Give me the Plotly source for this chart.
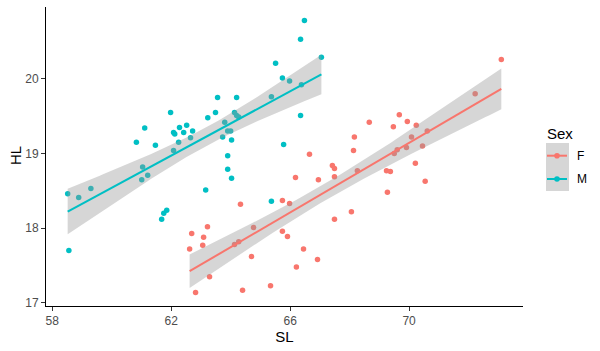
import numpy as np
import plotly.graph_objects as go

# ---------------- data ----------------
sex_levels = ["F", "M"]

sl_F = [68.66, 68.16, 68.13, 66.65, 67.42, 67.49, 68.26, 66.18, 66.95, 67.49,
        62.69, 62.62, 62.82, 64.33, 65.74, 65.98, 68.06, 67.49, 63.22, 63.09,
        63.06, 64.77, 65.74, 65.91, 64.13, 64.27, 66.45, 64.70, 66.92, 66.21,
        63.29, 64.40, 65.34, 73.10, 72.22, 69.67, 69.94, 69.47, 70.24, 70.61,
        70.08, 69.91, 70.45, 69.60, 69.50, 69.24, 69.37, 70.21, 70.54, 69.27]
hl_F = [19.42, 19.22, 19.04, 18.99, 18.84, 18.80, 18.77, 18.68, 18.65, 18.69,
        17.93, 17.72, 17.14, 18.32, 18.37, 18.33, 18.22, 18.12, 18.02, 17.88,
        17.77, 18.01, 17.96, 17.89, 17.78, 17.82, 17.72, 17.62, 17.58, 17.48,
        17.35, 17.17, 17.23, 20.26, 19.80, 19.52, 19.43, 19.36, 19.38, 19.30,
        19.22, 19.08, 19.10, 19.05, 19.00, 18.77, 18.76, 18.87, 18.63, 18.48]

sl_M = [61.98, 61.11, 60.83, 61.47, 62.08, 62.12, 62.28, 62.42, 62.52, 62.72,
        62.65, 62.25, 62.08, 61.04, 61.21, 61.01, 66.48, 66.35, 67.05, 65.51,
        65.74, 65.98, 66.38, 65.37, 63.56, 64.20, 63.49, 63.23, 64.13, 64.20,
        64.27, 63.80, 63.90, 64.00, 63.73, 64.03, 65.78, 66.35, 63.90, 63.90,
        64.03, 58.52, 58.89, 59.30, 61.68, 61.75, 61.85, 58.56, 63.16, 65.37]
hl_M = [19.55, 19.34, 19.15, 19.11, 19.28, 19.26, 19.35, 19.28, 19.38, 19.30,
        19.21, 19.15, 19.04, 18.82, 18.71, 18.65, 20.78, 20.53, 20.29, 20.21,
        20.01, 19.97, 19.92, 19.76, 19.75, 19.75, 19.55, 19.48, 19.55, 19.51,
        19.49, 19.42, 19.30, 19.30, 19.22, 19.18, 19.12, 19.51, 18.97, 18.79,
        18.67, 18.46, 18.41, 18.53, 18.12, 18.20, 18.24, 17.70, 18.51, 18.36]

x_ticks = [58, 62, 66, 70]
y_ticks = [17, 18, 19, 20]

# ---------------- style ----------------
COL = {"F": "#F8766D", "M": "#00BFC4"}
FONT = "Liberation Sans, Arial, sans-serif"
W, H = 600, 351
ML, MR, MT, MB = 46, 77, 7, 45
PW, PH = W - ML - MR, H - MT - MB


def px(x):
    return (x - ML) / PW


def py(y):
    return (H - MB - y) / PH


def lm_band(x, y, n=80, tq=2.0106):
    x = np.asarray(x, float)
    y = np.asarray(y, float)
    b1, b0 = np.polyfit(x, y, 1)
    xs = np.linspace(x.min(), x.max(), n)
    yh = b0 + b1 * xs
    res = y - (b0 + b1 * x)
    s = np.sqrt(np.sum(res ** 2) / (len(x) - 2))
    sxx = np.sum((x - x.mean()) ** 2)
    se = s * np.sqrt(1 / len(x) + (xs - x.mean()) ** 2 / sxx)
    return xs, yh, yh - tq * se, yh + tq * se


data = {"F": (sl_F, hl_F), "M": (sl_M, hl_M)}

fig = go.Figure()
for k in sex_levels:
    xv, yv = data[k]
    fig.add_trace(go.Scatter(x=xv, y=yv, mode="markers", name=k,
                             marker=dict(color=COL[k], size=5.5),
                             showlegend=False, hoverinfo="skip"))
for k in sex_levels:
    xv, yv = data[k]
    xs, yh, lo, hi = lm_band(xv, yv)
    fig.add_trace(go.Scatter(x=np.concatenate([xs, xs[::-1]]),
                             y=np.concatenate([lo, hi[::-1]]),
                             fill="toself", fillcolor="rgba(153,153,153,0.4)",
                             line=dict(width=0), mode="lines",
                             showlegend=False, hoverinfo="skip"))
    fig.add_trace(go.Scatter(x=xs, y=yh, mode="lines",
                             line=dict(color=COL[k], width=2),
                             showlegend=False, hoverinfo="skip"))

allx = np.array(sl_F + sl_M)
ally = np.array(hl_F + hl_M)
xr = [allx.min() - 0.05 * np.ptp(allx), allx.max() + 0.05 * np.ptp(allx)]
yr = [ally.min() - 0.05 * np.ptp(ally), ally.max() + 0.05 * np.ptp(ally)]

axis_common = dict(showgrid=False, zeroline=False, showline=True,
                   linecolor="black", linewidth=1, ticks="outside",
                   ticklen=4, tickwidth=1, tickcolor="#333333",
                   tickfont=dict(family=FONT, size=12, color="#4D4D4D"))

fig.update_xaxes(range=xr, tickvals=x_ticks, ticktext=[str(t) for t in x_ticks],
                 title=dict(text="SL", font=dict(family=FONT, size=15, color="black"),
                            standoff=4),
                 **axis_common)
fig.update_yaxes(range=yr, tickvals=y_ticks, ticktext=[str(t) for t in y_ticks],
                 **axis_common)

# ---------------- manual ggplot-style legend ----------------
shapes = [dict(type="rect", xref="paper", yref="paper",
               x0=px(546), x1=px(569), y0=py(191), y1=py(143),
               fillcolor="#D6D6D6", line=dict(width=0), layer="above")]
annotations = [
    dict(text="HL", xref="paper", yref="paper", x=px(15), y=py(156),
         xanchor="center", yanchor="middle", textangle=-90, showarrow=False,
         font=dict(family=FONT, size=15, color="black")),
    dict(text="Sex", xref="paper", yref="paper", x=px(545), y=py(133),
         xanchor="left", yanchor="middle", showarrow=False,
         font=dict(family=FONT, size=15, color="black")),
]
key_y = {"F": 155.7, "M": 179.0}
for k in sex_levels:
    yk = key_y[k]
    shapes.append(dict(type="line", xref="paper", yref="paper",
                       x0=px(547), x1=px(567), y0=py(yk), y1=py(yk),
                       line=dict(color=COL[k], width=2), layer="above"))
    shapes.append(dict(type="circle", xref="paper", yref="paper",
                       xsizemode="pixel", ysizemode="pixel",
                       xanchor=px(557), yanchor=py(yk),
                       x0=-2.8, x1=2.8, y0=-2.8, y1=2.8,
                       fillcolor=COL[k], line=dict(width=0), layer="above"))
    annotations.append(dict(text=k, xref="paper", yref="paper", x=px(575), y=py(yk),
                            xanchor="left", yanchor="middle", showarrow=False,
                            font=dict(family=FONT, size=12, color="black")))

fig.update_layout(width=W, height=H,
                  margin=dict(l=ML, r=MR, t=MT, b=MB, autoexpand=False),
                  paper_bgcolor="white", plot_bgcolor="white",
                  showlegend=False, shapes=shapes, annotations=annotations,
                  font=dict(family=FONT))

fig.write_html("out.html")
